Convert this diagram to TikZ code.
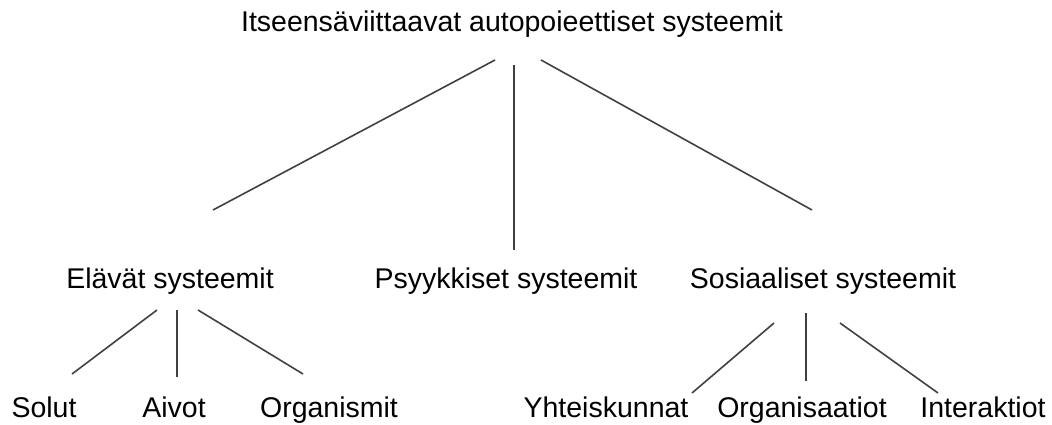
\documentclass[tikz,border=0pt]{standalone}
\usepackage{fontspec}
\setmainfont{Liberation Sans}

\begin{document}
\begin{tikzpicture}[x=1pt,y=-1pt,
    label/.style={anchor=base,inner sep=0pt,font=\fontsize{28.5}{34}\selectfont},
    branch/.style={line width=1.6pt,color=black!75}]
    \useasboundingbox (0,0) rectangle (1052,425);
    % Draw the labels
    \node[label] (root) at (512,32) {Itseensäviittaavat autopoieettiset systeemit};
    \node[label] (elavat) at (170,288) {Elävät systeemit};
    \node[label] (psyyk) at (506,288) {Psyykkiset systeemit};
    \node[label] (sosiaal) at (823,288) {Sosiaaliset systeemit};
    \node[label] (solut) at (44,417) {Solut};
    \node[label] (aivot) at (174,417) {Aivot};
    \node[label] (organismit) at (329,417) {Organismit};
    \node[label] (yhteis) at (606,417) {Yhteiskunnat};
    \node[label] (organisaatiot) at (802,417) {Organisaatiot};
    \node[label] (interakt) at (983,417) {Interaktiot};
    % Draw the line ends
    \coordinate (root-l) at (495,60);
    \coordinate (root-m) at (514,65);
    \coordinate (root-r) at (541,60);
    \coordinate (elavat-in) at (213,210);
    \coordinate (psyyk-in) at (514,250);
    \coordinate (sosiaal-in) at (812,210);
    \coordinate (elavat-l) at (157,310);
    \coordinate (elavat-m) at (177,310);
    \coordinate (elavat-r) at (198,310);
    \coordinate (solut-in) at (72,374);
    \coordinate (aivot-in) at (177,377);
    \coordinate (organismit-in) at (303,374);
    \coordinate (sosiaal-l) at (774,323);
    \coordinate (sosiaal-m) at (806,313);
    \coordinate (sosiaal-r) at (840,323);
    \coordinate (yhteis-in) at (692,393);
    \coordinate (organisaatiot-in) at (806,381);
    \coordinate (interakt-in) at (938,393);
    % Draw the branches
    \draw[branch] (root-l) -- (elavat-in);
    \draw[branch] (root-m) -- (psyyk-in);
    \draw[branch] (root-r) -- (sosiaal-in);
    \draw[branch] (elavat-l) -- (solut-in);
    \draw[branch] (elavat-m) -- (aivot-in);
    \draw[branch] (elavat-r) -- (organismit-in);
    \draw[branch] (sosiaal-l) -- (yhteis-in);
    \draw[branch] (sosiaal-m) -- (organisaatiot-in);
    \draw[branch] (sosiaal-r) -- (interakt-in);
\end{tikzpicture}
\end{document}
